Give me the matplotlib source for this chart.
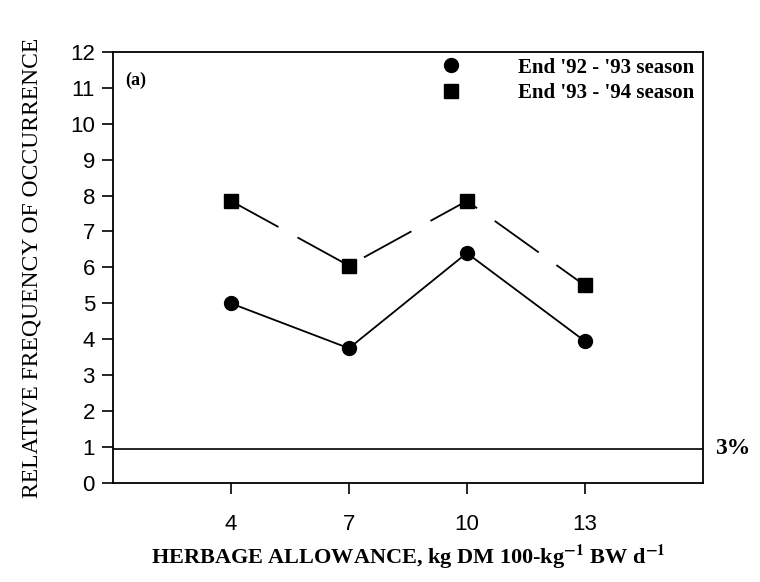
import matplotlib
matplotlib.use("Agg")
import matplotlib.pyplot as plt
from matplotlib.lines import Line2D

allowance = [4, 7, 10, 13]
season_92_93 = [5.0, 3.75, 6.4, 3.95]
season_93_94 = [7.85, 6.05, 7.85, 5.5]
threshold = 0.95
x_ticks = [4, 7, 10, 13]
y_ticks = list(range(0, 13))

plt.rcParams['mathtext.fontset'] = 'stix'

fig = plt.figure(figsize=(7.6, 5.82), dpi=100)
ax = fig.add_axes([0.1487, 0.170, 0.776, 0.741])

ax.plot(allowance, season_92_93, color='black', lw=1.3, marker='o', ms=10, zorder=3)
ax.plot(allowance, season_93_94, color='black', lw=1.3, marker='s', ms=9.5,
        dashes=(30, 12), zorder=3)
ax.axhline(threshold, color='black', lw=1.2)

ax.set_xlim(1, 16)
ax.set_ylim(0, 12)
ax.set_xticks(x_ticks)
ax.set_yticks(y_ticks)
ax.tick_params(axis='both', direction='out', length=8, width=1.2, labelsize=16)
ax.tick_params(axis='x', pad=14)
ax.tick_params(axis='y', pad=5)
for lab in ax.get_xticklabels() + ax.get_yticklabels():
    lab.set_family('Liberation Sans')
for s in ax.spines.values():
    s.set_linewidth(1.3)

ax.set_ylabel('RELATIVE FREQUENCY OF OCCURRENCE', family='Liberation Serif',
              fontsize=17, labelpad=20)
ax.set_xlabel(r'HERBAGE ALLOWANCE, kg DM 100-kg$^{\mathbf{-1}}$ BW d$^{\mathbf{-1}}$',
              family='Liberation Serif', fontweight='bold', fontsize=16, labelpad=6)

ax.text(0.02, 0.955, '(a)', transform=ax.transAxes, family='Liberation Serif',
        fontweight='bold', fontsize=13, va='top', ha='left')
ax.text(1.02, threshold, '3%', transform=ax.get_yaxis_transform(),
        family='Liberation Serif', fontweight='bold', fontsize=17, va='center', ha='left')

handles = [Line2D([], [], color='black', marker='o', ls='none', ms=10),
           Line2D([], [], color='black', marker='s', ls='none', ms=9.5)]
ax.legend(handles, ["End '92 - '93 season", "End '93 - '94 season"],
          loc='upper right', bbox_to_anchor=(1.01, 1.02), frameon=False,
          prop={'family': 'Liberation Serif', 'weight': 'bold', 'size': 15},
          handletextpad=2.2, labelspacing=0.25, borderaxespad=0.3)

fig.savefig('out.png', dpi=100)
